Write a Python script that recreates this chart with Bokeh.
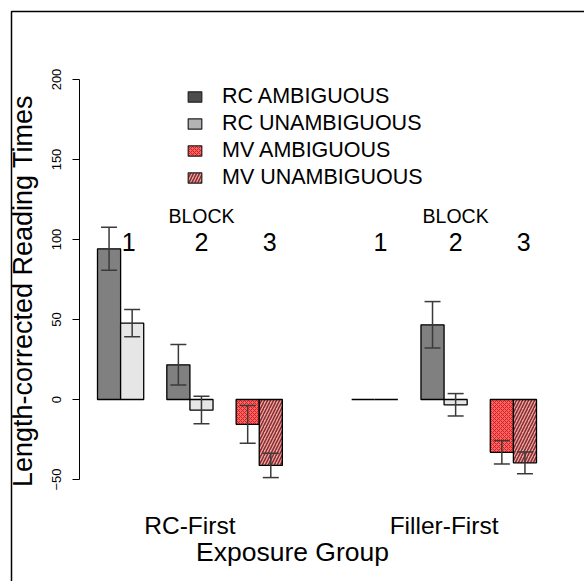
import math
from bokeh.plotting import figure
from bokeh.models import (ColumnDataSource, Range1d, LinearAxis, FixedTicker, Whisker,
                          TeeHead, Legend, LegendItem, BoxAnnotation)
from bokeh.core.properties import value
from bokeh.embed import file_html
from bokeh.resources import INLINE

# ---------------- data ----------------
groups = ["RC-First", "Filler-First"]
block_labels = ["1", "2", "3"]
block_kind = ["RC", "RC", "MV"]          # which clause type each block shows
conditions = ["RC AMBIGUOUS", "RC UNAMBIGUOUS", "MV AMBIGUOUS", "MV UNAMBIGUOUS"]

# per group, per block: [ambiguous, unambiguous]
rc_first_amb = [94.2, 21.7, -15.5]
rc_first_unamb = [47.7, -6.6, -41.2]
rc_first_amb_se = [13.4, 12.6, 11.8]
rc_first_unamb_se = [8.5, 8.6, 7.6]

filler_first_amb = [0.0, 46.7, -33.0]
filler_first_unamb = [0.0, -3.3, -39.6]
filler_first_amb_se = [0.0, 14.5, 7.3]
filler_first_unamb_se = [0.0, 7.0, 6.8]

y_ticks = [-50, 0, 50, 100, 150, 200]

# ---------------- layout helpers ----------------
FONT = "Liberation Sans"
W, H = 584, 581
PX_X = 23.105      # pixels per bar width
X0_PX = 97         # px of first bar's left edge
PX_Y = 1.6         # pixels per unit
Y0_PX = 399        # px of y = 0

GROUP_STEP = 11    # bar units between group starts
BLOCK_STEP = 3     # bar units between block starts

amb = [rc_first_amb, filler_first_amb]
unamb = [rc_first_unamb, filler_first_unamb]
amb_se = [rc_first_amb_se, filler_first_amb_se]
unamb_se = [rc_first_unamb_se, filler_first_unamb_se]

bars = {c: dict(x=[], top=[]) for c in conditions}
err = dict(x=[], upper=[], lower=[])
for g in range(len(groups)):
    for b in range(len(block_labels)):
        left = g * GROUP_STEP + b * BLOCK_STEP
        kind = block_kind[b]
        for k, (vals, ses, tag) in enumerate([(amb, amb_se, "AMBIGUOUS"), (unamb, unamb_se, "UNAMBIGUOUS")]):
            v = vals[g][b]
            s = ses[g][b]
            cx = left + k + 0.5
            bars[f"{kind} {tag}"]["x"].append(cx)
            bars[f"{kind} {tag}"]["top"].append(v)
            if s > 0:
                err["x"].append(cx)
                err["upper"].append(v + s)
                err["lower"].append(v - s)


def px_to_x(px):
    return (px - X0_PX) / PX_X


def px_to_y(px):
    return (Y0_PX - px) / PX_Y


x_start, x_end = px_to_x(0), px_to_x(W)
y_end, y_start = px_to_y(0), px_to_y(H)

p = figure(width=W, height=H, output_backend="svg", toolbar_location=None,
           x_range=Range1d(x_start, x_end), y_range=Range1d(y_start, y_end),
           x_axis_type=None, y_axis_type=None)
p.min_border = 0
p.min_border_left = p.min_border_right = p.min_border_top = p.min_border_bottom = 0
p.outline_line_color = None
p.xgrid.visible = False
p.ygrid.visible = False
p.background_fill_color = "white"
p.border_fill_color = "white"

styles = {
    "RC AMBIGUOUS": dict(fill_color="#808080"),
    "RC UNAMBIGUOUS": dict(fill_color="#e6e6e6"),
    "MV AMBIGUOUS": dict(fill_color="#ff6262", hatch_pattern="diagonal_cross",
                         hatch_color="#cc2222", hatch_scale=4, hatch_weight=1.0),
    "MV UNAMBIGUOUS": dict(fill_color="#e6a8a8", hatch_pattern="right_diagonal_line",
                           hatch_color="#8c2a2a", hatch_scale=6, hatch_weight=1.5),
}
legend_styles = {
    "RC AMBIGUOUS": dict(fill_color="#4d4d4d"),
    "RC UNAMBIGUOUS": dict(fill_color="#b3b3b3"),
    "MV AMBIGUOUS": styles["MV AMBIGUOUS"],
    "MV UNAMBIGUOUS": styles["MV UNAMBIGUOUS"],
}

for c in conditions:
    src = ColumnDataSource(bars[c])
    p.vbar(x="x", top="top", bottom=0, width=1.0, source=src,
           line_color="black", line_width=1.3, **styles[c])

wsrc = ColumnDataSource(err)
wcol = "#3a3a3a"
wh = Whisker(base="x", upper="upper", lower="lower", source=wsrc, level="overlay",
             line_color=wcol, line_width=1.5,
             upper_head=TeeHead(size=16, line_color=wcol, line_width=1.5),
             lower_head=TeeHead(size=16, line_color=wcol, line_width=1.5))
p.add_layout(wh)

# legend (separate swatches, not drawn in the plot)
items = []
for c in conditions:
    r = p.vbar(x=[math.nan], top=[math.nan], bottom=0, width=1.0,
               line_color="#222222", line_width=1.2, **legend_styles[c])
    items.append(LegendItem(label=c, renderers=[r]))
legend = Legend(items=items, location=(186, 391.5), orientation="vertical",
                glyph_width=17, glyph_height=13, label_standoff=19, spacing=2,
                padding=0, margin=0, border_line_alpha=0, background_fill_alpha=0,
                label_text_font=FONT, label_text_font_size="21.5px", label_height=24,
                label_text_color="black")
p.add_layout(legend, "center")

# y axis
axis_x = px_to_x(79.3)
yax = LinearAxis(fixed_location=axis_x, bounds=(y_ticks[0], y_ticks[-1]),
                 ticker=FixedTicker(ticks=y_ticks))
yax.axis_line_color = "black"
yax.axis_line_width = 1
yax.major_tick_out = 7
yax.major_tick_in = 0
yax.minor_tick_line_color = None
yax.major_label_orientation = "parallel"
yax.major_label_text_font = FONT
yax.major_label_text_font_size = "13px"
yax.major_label_text_color = "black"
yax.major_label_standoff = 12
p.add_layout(yax, "left")

# y title carried by a tick-less axis, centred on the plot region like the original
ytitle = LinearAxis(fixed_location=axis_x, bounds=(-64.4, y_ticks[-1]),
                    ticker=FixedTicker(ticks=[]))
ytitle.axis_line_color = None
ytitle.major_tick_line_color = None
ytitle.minor_tick_line_color = None
ytitle.major_tick_out = 0
ytitle.major_tick_in = 0
ytitle.axis_label = "Length-corrected Reading Times"
ytitle.axis_label_text_font = FONT
ytitle.axis_label_text_font_size = "27px"
ytitle.axis_label_text_font_style = "normal"
ytitle.axis_label_text_color = "black"
ytitle.axis_label_standoff = 42
p.add_layout(ytitle, "left")

# x axis (group names only)
group_centers = [g * GROUP_STEP + (len(block_labels) * BLOCK_STEP - 1) / 2 for g in range(len(groups))]
xax = LinearAxis(fixed_location=y_ticks[0], ticker=FixedTicker(ticks=group_centers),
                 major_label_overrides={gc: name for gc, name in zip(group_centers, groups)})
xax.axis_line_color = None
xax.major_tick_line_color = None
xax.minor_tick_line_color = None
xax.major_tick_out = 0
xax.major_tick_in = 0
xax.major_label_text_font = FONT
xax.major_label_text_font_size = "24.5px"
xax.major_label_text_color = "black"
xax.major_label_standoff = 32
xax.axis_label = "Exposure Group"
xax.axis_label_text_font = FONT
xax.axis_label_text_font_size = "26.5px"
xax.axis_label_text_font_style = "normal"
xax.axis_label_text_color = "black"
xax.axis_label_standoff = -5
p.add_layout(xax, "below")

# BLOCK headers and block numbers
num_offset = [0.35, 0.5, 0.45]
block_x, block_num = [], []
head_x = []
for g in range(len(groups)):
    for b in range(len(block_labels)):
        block_x.append(g * GROUP_STEP + b * BLOCK_STEP + 1 + num_offset[b] - (0.1 if g == 1 and b == 0 else 0))
        block_num.append(block_labels[b])
    head_x.append(g * GROUP_STEP + BLOCK_STEP + 1.5)
p.text(x=block_x, y=[98.75] * len(block_x), text=block_num, text_align="center",
       text_baseline="alphabetic", text_font=value(FONT), text_font_size="25px", text_color="black")
p.text(x=head_x, y=[115] * len(head_x), text=["BLOCK"] * len(head_x), text_align="center",
       text_baseline="alphabetic", text_font=value(FONT), text_font_size="19.5px", text_color="black")

# figure box (its right and bottom edges lie outside the visible page)
p.add_layout(BoxAnnotation(left=px_to_x(11), right=px_to_x(W + 40),
                           top=px_to_y(11), bottom=px_to_y(H + 40),
                           fill_alpha=0, fill_color=None, line_color="black",
                           line_alpha=1.0, line_width=1.5, level="overlay"))

open("out.html", "w").write(file_html(p, INLINE))
